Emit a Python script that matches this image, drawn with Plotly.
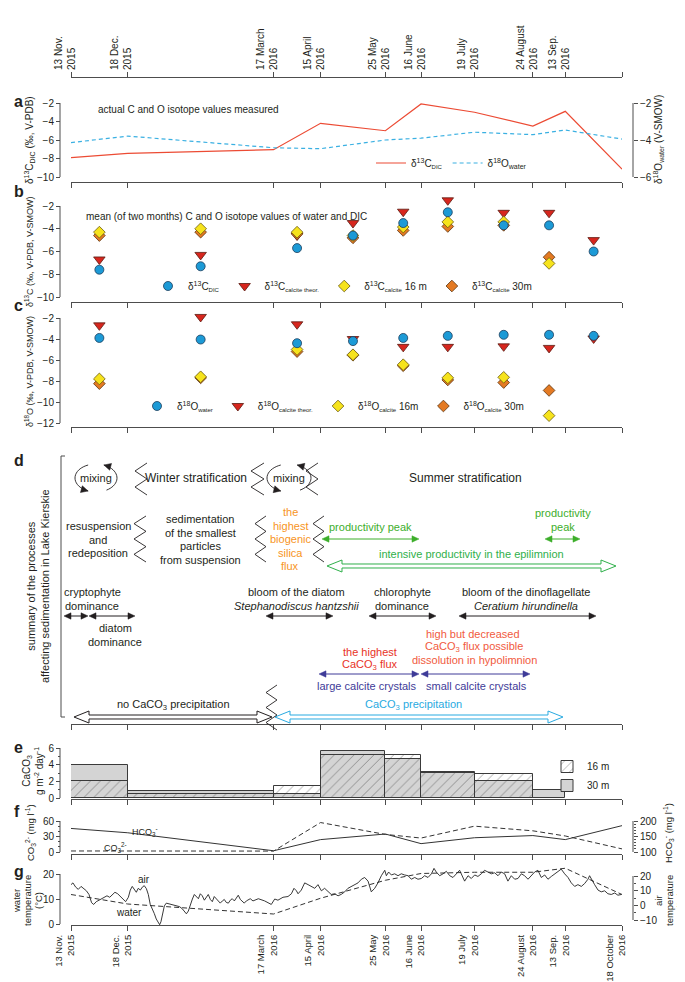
import math
import pandas as pd
import plotly.graph_objects as go

W, H = 685, 982

# ---------------- data ----------------
sampling_dates = ["2015-11-13", "2015-12-18", "2016-03-17", "2016-04-15", "2016-05-25",
                  "2016-06-16", "2016-07-19", "2016-08-24", "2016-09-13", "2016-10-18"]
tick_text = ["13 Nov.<br>2015", "18 Dec.<br>2015", "17 March<br>2016", "15 April<br>2016",
             "25 May<br>2016", "16 June<br>2016", "19 July<br>2016", "24 August<br>2016",
             "13 Sep.<br>2016", "18 October<br>2016"]
top_tick_text = tick_text[:-1] + [""]

# panel a (measured)
d13C_DIC = [-7.9, -7.45, -7.05, -4.2, -5.0, -2.1, -3.0, -4.5, -2.9, -9.15]
d18O_water = [-4.14, -3.79, -4.42, -4.47, -4.0, -3.9, -3.58, -3.71, -3.46, -3.95]

# panel b (two-month means)
b_DIC = [-7.6, -7.3, -5.7, -4.6, -3.5, -2.55, -3.7, -3.7, -6.0]
b_theor = [-6.7, -6.3, -4.6, -3.5, -2.5, -1.5, -2.6, -2.6, -5.0]
b_16m = [-4.3, -4.0, -4.3, -4.6, -3.85, -3.4, -3.4, -7.05, None]
b_30m = [-4.6, -4.3, -4.45, -4.8, -4.15, -3.8, -3.7, -6.5, None]

# panel c
c_water = [-3.9, -4.05, -4.4, -4.2, -3.9, -3.7, -3.6, -3.6, -3.7]
c_theor = [-2.7, -1.9, -2.6, -4.0, -4.75, -4.75, -4.7, -4.85, -3.95]
c_16m = [-7.8, -7.6, -5.0, -5.5, -6.45, -7.7, -7.65, -11.3, None]
c_30m = [-8.25, -7.7, -5.2, -5.55, -6.55, -7.9, -8.15, -8.9, None]

# panel e (CaCO3 flux, g m-2 day-1, per sampling interval)
flux_16m = [2.1, 0.5, 1.4, 5.2, 5.2, 3.0, 2.9, None, None]
flux_30m = [4.0, 0.8, 0.5, 5.7, 4.7, 3.1, 2.0, 1.0, None]

# panel f
co3 = [2.0, 2.0, 1.8, 57, 34, 27, 50, 41, 31, 6]
hco3 = [176, 162, 104, 140, 158, 127, 146, 153, 140, 185]

# panel g
water_temp = [11.8, 8.0, 4.0, 10.3, 17.5, 20.2, 20.7, 20.7, 22.3, 11.8]
air_day = [0, 1.2, 2.9, 4.5, 6.2, 7.8, 9.5, 11.1, 12.7, 14.0, 15.6, 17.3, 18.9, 20.6, 22.2, 23.9,
           25.5, 27.1, 28.8, 30.4, 32.1, 33.7, 35.4, 36.6, 37.8, 39.1, 40.3, 41.5, 42.8, 44.0,
           45.2, 46.5, 47.7, 48.9, 50.2, 51.4, 52.6, 53.9, 54.7, 55.5, 56.4, 57.6, 58.8, 60.5,
           62.1, 63.8, 65.4, 67.0, 68.7, 69.9, 71.2, 72.4, 73.6, 74.9, 76.1, 77.3, 78.6, 79.8,
           81.0, 82.3, 83.5, 84.7, 86.0, 87.2, 88.4, 89.7, 90.9, 92.1, 93.4, 94.6, 95.8, 97.1,
           98.3, 99.5, 100.8, 102.0, 103.2, 104.5, 105.7, 106.9, 108.2, 109.4, 110.6, 112.3,
           113.9, 115.6, 119.5, 123.6, 125.7, 127.7, 130.8, 133.9, 136.0, 137.6, 139.1, 140.1,
           142.1, 144.2, 146.3, 148.3, 150.4, 152.4, 154.5, 156.5, 158.6, 160.6, 162.7, 164.8,
           166.8, 168.9, 170.9, 173.0, 175.0, 177.1, 179.2, 181.2, 183.3, 185.3, 187.4, 189.4,
           191.5, 193.6, 194.6, 196.0, 197.7, 199.7, 201.8, 203.8, 205.9, 208.0, 210.0, 212.1,
           214.1, 216.2, 218.2, 220.3, 222.4, 224.0, 225.4, 227.5, 229.6, 231.6, 233.7, 235.7,
           239.8, 241.5, 242.9, 245.0, 247.0, 249.1, 251.1, 253.2, 255.2, 257.3, 259.4, 261.4,
           263.5, 265.5, 267.6, 269.6, 271.7, 273.8, 275.8, 277.9, 279.9, 282.0, 284.0, 286.1,
           288.1, 290.2, 292.3, 294.3, 296.4, 298.4, 300.5, 302.5, 304.6, 306.7, 308.7, 310.8,
           312.8, 314.9, 316.9, 319.0, 320.0, 321.7, 323.1, 325.2, 327.2, 329.3, 331.3, 333.4,
           335.5, 337.5, 339.6]
air_temp = [14.1, 15.3, 12.4, 10.9, 12.9, 11.6, 9.9, 7.4, 1.8, 0.6, 2.5, 3.5, 4.5, 6.0, 6.5, 5.5,
            7.4, 8.9, 7.9, 6.0, 4.0, 2.5, 5.5, 10.4, 12.9, 10.9, 8.9, 11.6, 10.4, 12.4,
            13.4, 11.4, 7.4, 0.6, -2.4, -5.6, -9.3, -12.2, -13.2, -11.2, -6.3, -0.4, 1.5, 1.1,
            0.6, 0.1, -0.4, -0.9, -2.4, -4.4, -5.8, -3.9, 0.6, 4.3, 7.4, 6.0, 4.5, 7.9,
            6.5, 3.5, 5.5, 7.4, 4.0, 2.5, 6.0, 4.5, 2.5, 1.5, 3.0, 4.0, 2.0, 1.5,
            3.5, 4.5, 3.0, 5.5, 6.9, 4.0, 2.5, 1.5, 3.0, 4.0, 4.5, 3.0,
            3.5, 4.5, 3.0, 0.6, 4.3, 3.5, 5.5, 6.0, 7.9, 11.6, 9.9, 7.9,
            10.4, 15.3, 14.1, 12.9, 11.6, 14.1, 9.9, 11.6, 9.2, 7.4, 7.9, 6.5,
            7.5, 9.2, 11.6, 12.9, 14.1, 15.3, 17.8, 19.0, 16.5, 9.2, 11.6, 15.3,
            20.2, 23.9, 20.2, 22.7, 20.7, 21.5, 20.2, 21.5, 20.7, 20.2, 17.8, 19.0,
            17.8, 18.3, 20.2, 19.0, 21.5, 25.2, 22.7, 20.2, 21.5, 23.2, 20.2, 19.0,
            23.9, 20.2, 16.5, 20.2, 18.3, 20.7, 19.7, 21.5, 23.9, 22.7, 21.5, 22.2,
            20.2, 22.7, 21.5, 16.5, 20.2, 17.8, 18.3, 21.5, 20.2, 17.8, 20.2, 22.7,
            23.9, 19.0, 20.7, 17.8, 19.7, 21.5, 23.2, 24.7, 21.5, 19.0, 15.3, 12.9,
            14.1, 12.9, 14.8, 17.8, 20.2, 16.5, 14.1, 10.4, 9.2, 9.9, 7.9, 7.4,
            8.4, 6.9, 7.4]

# derived positions via pandas (interval starts, lengths, midpoints)
sd = pd.to_datetime(sampling_dates)
period_start = sd[:-1]
period_len_ms = [(b - a).total_seconds() * 1000 for a, b in zip(sd[:-1], sd[1:])]
period_mid = [a + (b - a) / 2 for a, b in zip(sd[:-1], sd[1:])]
air_dates = pd.Timestamp(sampling_dates[0]) + pd.to_timedelta(air_day, unit="D")

# ---------------- layout helpers ----------------
def xp(p):
    return p / W


def yp(p):
    return 1 - p / H


X0, X1 = 63, 614
XDOM = [xp(X0), xp(X1)]
XR = [sampling_dates[0], sampling_dates[-1]]
LEFT_AX, RIGHT_AX = 52, 625
FONT = "Liberation Sans, Arial, sans-serif"
DF = 11  # panel d font size
INK = "#231f20"
AXC = "#4d4d4d"


def yrange(v_top, p_top, v_bot, p_bot, dom_top, dom_bot):
    k = (v_top - v_bot) / (p_bot - p_top)
    return [v_bot - (dom_bot - p_bot) * k, v_top + (p_top - dom_top) * k]


def xaxis_def(pos_px, labels=False, side="bottom", text=None, fsize=10):
    d = dict(domain=XDOM, range=XR, type="date", anchor="free", position=yp(pos_px),
             side=side, showline=True, linecolor=AXC, linewidth=1, ticks="outside",
             ticklen=5, tickcolor=AXC, tickvals=sampling_dates, showgrid=False,
             zeroline=False, showticklabels=labels, fixedrange=True, automargin=False)
    if labels:
        d.update(ticktext=text, tickangle=-90, ticklabelshift=-6,
                 tickfont=dict(size=fsize, color=INK, family=FONT))
    return d


def yaxis_def(dom_top, dom_bot, rng, tickvals, side="left", overlaying=None, minor=None):
    d = dict(domain=[yp(dom_bot), yp(dom_top)], range=rng, anchor="free",
             position=xp(LEFT_AX if side == "left" else RIGHT_AX), side=side,
             showline=False, ticks="outside", ticklen=4, tickcolor=AXC, tickvals=tickvals,
             showgrid=False, zeroline=False, tickfont=dict(size=10, color=INK, family=FONT),
             fixedrange=True, automargin=False)
    if overlaying:
        d["overlaying"] = overlaying
    if minor:
        d["minor"] = dict(tickvals=minor, ticks="outside", ticklen=2, tickcolor=AXC)
    return d


SH = []
AN = []


def axis_line(yref, v0, v1, xpx):
    SH.append(dict(type="line", xref="paper", yref=yref, x0=xp(xpx), x1=xp(xpx), y0=v0, y1=v1,
                   line=dict(color=AXC, width=1)))


def pth(pts, close=False):
    s = "M " + " L ".join(f"{xp(x):.5f},{yp(y):.5f}" for x, y in pts)
    return s + (" Z" if close else "")


def add_line(x0, y0, x1, y1, color=INK, w=1):
    SH.append(dict(type="line", xref="paper", yref="paper", x0=xp(x0), y0=yp(y0), x1=xp(x1),
                   y1=yp(y1), line=dict(color=color, width=w)))


def add_poly(pts, fill, color, w=1, close=True):
    SH.append(dict(type="path", xref="paper", yref="paper", path=pth(pts, close),
                   fillcolor=fill, line=dict(color=color, width=w)))


def head(tx, ty, dx, dy, color, L=7, hw=3.2):
    n = math.hypot(dx, dy)
    ux, uy = dx / n, dy / n
    bx, by = tx - L * ux, ty - L * uy
    add_poly([(tx, ty), (bx - hw * uy, by + hw * ux), (bx + hw * uy, by - hw * ux)], color, color, 0.5)


def darrow(x0, x1, y, color, w=1):
    add_line(x0 + 5, y, x1 - 5, y, color, w)
    head(x1, y, 1, 0, color)
    head(x0, y, -1, 0, color)


def hollow(x0, x1, y, color, L=15, hw=6, sw=2):
    pts = [(x0, y), (x0 + L, y - hw), (x0 + L, y - sw), (x1 - L, y - sw), (x1 - L, y - hw), (x1, y),
           (x1 - L, y + hw), (x1 - L, y + sw), (x0 + L, y + sw), (x0 + L, y + hw)]
    add_poly(pts, "white", color, 1)


def zigzag(xl, xr, yt, yb, n, color=INK):
    pts = [(xr if i % 2 == 0 else xl, yt + (yb - yt) * i / n) for i in range(n + 1)]
    add_poly(pts, "rgba(0,0,0,0)", color, 0.9, close=False)


def txt(x, y, s, size=DF, color=INK, font=FONT, xanchor="center", yanchor="middle", angle=0):
    AN.append(dict(x=xp(x), y=yp(y), xref="paper", yref="paper", text=s, showarrow=False,
                   font=dict(size=size, color=color, family=font), xanchor=xanchor,
                   yanchor=yanchor, textangle=angle, align="center"))


def mixing(cx, cy, rx, ry):
    for a0, a1 in ((-60, 68), (112, 248)):
        pts = []
        for k in range(21):
            t = math.radians(a0 + (a1 - a0) * k / 20)
            pts.append((cx + rx * math.cos(t), cy - ry * math.sin(t)))
        add_poly(pts, "rgba(0,0,0,0)", INK, 0.9, close=False)
        t = math.radians(a1)
        head(cx + rx * math.cos(t), cy - ry * math.sin(t), -rx * math.sin(t), -ry * math.cos(t), INK, L=7, hw=3.5)
    txt(cx, cy, "mixing")


# ---------------- panel geometry (pixels) ----------------
TOP_AX = 69
A_TOP, A_BOT = 86, 174
ra_left = yrange(-2, 95, -10, 169, A_TOP, A_BOT)
ra_right = yrange(-2, 95, -6, 169, A_TOP, A_BOT)
B_TOP, B_BOT = 186, 294
rb = yrange(-2, 198, -10, 289, B_TOP, B_BOT)
C_TOP, C_BOT = 300, 419
rc = yrange(-2, 310, -12, 415, C_TOP, C_BOT)
D_TOP, D_BOT = 440, 716
E_TOP, E_BOT = 733, 791
re = yrange(6, 740, 0, 790, E_TOP, E_BOT)
F_TOP, F_BOT = 806, 846
rf_left = yrange(60, 813, 0, 844, F_TOP, F_BOT)
rf_right = yrange(200, 813, 100, 844, F_TOP, F_BOT)
G_TOP, G_BOT = 857, 917
rg_left = yrange(20, 866, 0, 916, G_TOP, G_BOT)
rg_right = yrange(20, 868, -10, 912, G_TOP, G_BOT)

fig = go.Figure()

# dummy trace for the top date axis
fig.add_trace(go.Scatter(x=[sampling_dates[0]], y=[0], xaxis="x", yaxis="y", mode="markers",
                         marker=dict(opacity=0), showlegend=False, hoverinfo="skip"))

# ---- panel a ----
fig.add_trace(go.Scatter(x=sampling_dates, y=d13C_DIC, xaxis="x2", yaxis="y2", mode="lines",
                         line=dict(color="#ec4b34", width=1.2),
                         name='δ<sup>13</sup>C<sub><span style="font-size:6px">DIC</span></sub>',
                         legend="legend"))
fig.add_trace(go.Scatter(x=sampling_dates, y=d18O_water, xaxis="x2", yaxis="y3", mode="lines",
                         line=dict(color="#3ab0e2", width=1.2, dash="4px,3px"),
                         name="δ<sup>18</sup>O<sub>water</sub>", legend="legend"))

# ---- panels b and c ----
STY = {
    "red": dict(symbol="triangle-down", size=10, color="#d7261e", line=dict(color="#5a1a10", width=0.8)),
    "orange": dict(symbol="diamond", size=9, color="#e47a23", line=dict(color="#5c3510", width=0.8)),
    "yellow": dict(symbol="diamond", size=9, color="#f6e31c", line=dict(color="#6b5a10", width=0.8)),
    "blue": dict(symbol="circle", size=9, color="#1c9ad6", line=dict(color="#1d3d5c", width=0.8)),
}


def sub(s):
    return f'<sub><span style="font-size:6px">{s}</span></sub>'


b_series = [("red", b_theor, "δ<sup>13</sup>C" + sub("calcite theor."), 2),
            ("orange", b_30m, "δ<sup>13</sup>C" + sub("calcite") + " 30m", 4),
            ("yellow", b_16m, "δ<sup>13</sup>C" + sub("calcite") + " 16 m", 3),
            ("blue", b_DIC, "δ<sup>13</sup>C" + sub("DIC"), 1)]
for key, vals, nm, rank in b_series:
    fig.add_trace(go.Scatter(x=period_mid, y=vals, xaxis="x4", yaxis="y4", mode="markers",
                             marker=STY[key], name=nm, legend="legend2", legendrank=rank,
                             cliponaxis=False))
c_series = [("red", c_theor, "δ<sup>18</sup>O" + sub("calcite theor."), 2),
            ("orange", c_30m, "δ<sup>18</sup>O" + sub("calcite") + " 30m", 4),
            ("yellow", c_16m, "δ<sup>18</sup>O" + sub("calcite") + " 16m", 3),
            ("blue", c_water, "δ<sup>18</sup>O" + sub("water"), 1)]
for key, vals, nm, rank in c_series:
    fig.add_trace(go.Scatter(x=period_mid, y=vals, xaxis="x5", yaxis="y5", mode="markers",
                             marker=STY[key], name=nm, legend="legend3", legendrank=rank,
                             cliponaxis=False))

# ---- panel d (axis only) ----
fig.add_trace(go.Scatter(x=[sampling_dates[0]], y=[0], xaxis="x6", yaxis="y6", mode="markers",
                         marker=dict(opacity=0), showlegend=False, hoverinfo="skip"))

# ---- panel e ----
fig.add_trace(go.Bar(x=period_start, y=flux_30m, offset=0, width=period_len_ms, xaxis="x7", yaxis="y7",
                     marker=dict(color="#d4d4d4", line=dict(color="#3a3a3a", width=1)),
                     name="30 m", legend="legend4", legendrank=2))
fig.add_trace(go.Bar(x=period_start, y=flux_16m, offset=0, width=period_len_ms, xaxis="x7", yaxis="y7",
                     marker=dict(color="rgba(0,0,0,0)", line=dict(color="#3a3a3a", width=1),
                                 pattern=dict(shape="/", fgcolor="#333333", size=7, solidity=0.12)),
                     name="16 m", legend="legend4", legendrank=1))

# ---- panel f ----
fig.add_trace(go.Scatter(x=sampling_dates, y=co3, xaxis="x8", yaxis="y8", mode="lines",
                         line=dict(color="#333333", width=1, dash="5px,3px"), showlegend=False))
fig.add_trace(go.Scatter(x=sampling_dates, y=hco3, xaxis="x8", yaxis="y9", mode="lines",
                         line=dict(color="#333333", width=1), showlegend=False))

# ---- panel g ----
fig.add_trace(go.Scatter(x=sampling_dates, y=water_temp, xaxis="x10", yaxis="y10", mode="lines",
                         line=dict(color="#333333", width=1, dash="5px,3px"), showlegend=False))
fig.add_trace(go.Scatter(x=air_dates, y=air_temp, xaxis="x10", yaxis="y11", mode="lines",
                         line=dict(color="#222222", width=0.9), showlegend=False))

# ---------------- axes ----------------
lay = dict(
    xaxis=xaxis_def(TOP_AX, labels=True, side="top", text=top_tick_text),
    yaxis=dict(domain=[yp(TOP_AX), yp(TOP_AX - 1)], visible=False, anchor="x", fixedrange=True,
               automargin=False),
    xaxis2=xaxis_def(A_BOT),
    yaxis2=yaxis_def(A_TOP, A_BOT, ra_left, [-10, -8, -6, -4, -2]),
    yaxis3=yaxis_def(A_TOP, A_BOT, ra_right, [-6, -4, -2], side="right", overlaying="y2"),
    xaxis4=xaxis_def(B_BOT),
    yaxis4=yaxis_def(B_TOP, B_BOT, rb, [-10, -8, -6, -4, -2]),
    xaxis5=xaxis_def(C_BOT),
    yaxis5=yaxis_def(C_TOP, C_BOT, rc, [-12, -10, -8, -6, -4, -2]),
    xaxis6=xaxis_def(D_BOT),
    yaxis6=dict(domain=[yp(D_BOT), yp(D_TOP)], range=[0, 1], visible=False, anchor="free",
                position=xp(LEFT_AX), fixedrange=True, automargin=False),
    xaxis7=xaxis_def(E_BOT),
    yaxis7=yaxis_def(E_TOP, E_BOT, re, [0, 2, 4, 6], minor=[1, 3, 5]),
    xaxis8=xaxis_def(F_BOT),
    yaxis8=yaxis_def(F_TOP, F_BOT, rf_left, [0, 30, 60], minor=[10, 20, 40, 50]),
    yaxis9=yaxis_def(F_TOP, F_BOT, rf_right, [100, 150, 200], side="right", overlaying="y8",
                     minor=[110, 120, 130, 140, 160, 170, 180, 190]),
    xaxis10=xaxis_def(G_BOT, labels=True, text=tick_text, fsize=9.5),
    yaxis10=yaxis_def(G_TOP, G_BOT, rg_left, [0, 10, 20]),
    yaxis11=yaxis_def(G_TOP, G_BOT, rg_right, [-10, 0, 10, 20], side="right", overlaying="y10",
                      minor=[-5, 5, 15]),
)

# R-style y-axis lines (only between extreme ticks)
axis_line("y2", -10, -2, LEFT_AX)
axis_line("y3", -6, -2, RIGHT_AX)
axis_line("y4", -10, -2, LEFT_AX)
axis_line("y5", -12, -2, LEFT_AX)
axis_line("y7", 0, 6, LEFT_AX)
axis_line("y8", 0, 60, LEFT_AX)
axis_line("y9", 100, 200, RIGHT_AX)
axis_line("y10", 0, 20, LEFT_AX)
axis_line("y11", -10, 20, RIGHT_AX)

# ---------------- panel letters & axis titles ----------------
for letter, ypos in (("a", 94), ("b", 184), ("c", 297), ("d", 453), ("e", 739), ("f", 803), ("g", 863)):
    AN.append(dict(x=xp(4), y=yp(ypos), xref="paper", yref="paper", text=f"<b>{letter}</b>",
                   showarrow=False, font=dict(size=16, color=INK, family=FONT), xanchor="left",
                   yanchor="middle"))

txt(21, 132, "δ<sup>13</sup>C<sub>DIC</sub> (‰, V-PDB)", size=10, angle=-90)
txt(650, 132, "δ<sup>18</sup>O<sub>water</sub> (V-SMOW)", size=10, angle=-90)
txt(21, 244, "δ<sup>13</sup>C (‰, V-PDB, V-SMOW)", size=9, angle=-90)
txt(21, 364, "δ<sup>18</sup>O (‰, V-PDB, V-SMOW)", size=9, angle=-90)
txt(30, 578, "summary of the processes<br>affecting sedimentation in Lake Kierskie", size=11,
    angle=-90)
txt(25, 763, "CaCO<sub>3</sub><br>g m<sup>-2</sup> day<sup>-1</sup>", size=10, angle=-90)
txt(22, 825, "CO<sub>3</sub><sup>2-</sup> (mg l<sup>-1</sup>)", size=9.5, angle=-90)
txt(660, 825, "HCO<sub>3</sub><sup>-</sup> (mg l<sup>-1</sup>)", size=9.5, angle=-90)
for i, s in enumerate(["water", "temperature", "(°C)"]):
    txt(8 + 11 * i, 893, s, size=9.5, angle=-90)
for i, s in enumerate(["air", "temperature", "(°C)"]):
    txt(650 + 11 * i, 893, s, size=9.5, angle=-90)

# in-panel texts
txt(88, 101, "actual C and O isotope values measured", size=10, xanchor="left")
txt(76, 208, "mean (of two months) C and O isotope values of water and DIC", size=10,
    xanchor="left")
txt(137, 823, "HCO<sub>3</sub><sup>-</sup>", size=9)
txt(107, 839, "CO<sub>3</sub><sup>2-</sup>", size=9)
txt(136, 871, "air", size=10)
txt(121, 904, "water", size=10)

# ---------------- panel d drawing ----------------
add_line(LEFT_AX + 1, 448, LEFT_AX + 1, 709, AXC)
add_line(LEFT_AX + 1, 448, LEFT_AX + 5, 448, AXC)
add_line(LEFT_AX + 1, 709, LEFT_AX + 5, 709, AXC)

ORANGE, GREEN, GREEN2 = "#f7941d", "#3dae2b", "#2fb04a"
RED1, RED2, INDIGO, BLUE = "#e8321e", "#f15a40", "#3e3b98", "#29aae1"

# row 1: mixing / stratification
mixing(88, 470, 21, 14)
zigzag(127, 139, 455, 487, 4)
txt(188, 470, "Winter stratification", size=12)
zigzag(243, 256, 455, 487, 4)
mixing(281, 470, 22, 14)
zigzag(298, 310, 455, 487, 4)
txt(457, 470, "Summer stratification", size=12)

# row 2
for i, s in enumerate(["resuspension", "and", "redeposition"]):
    txt(90, 518 + 13.5 * i, s)
zigzag(126, 138, 508, 554, 6)
for i, s in enumerate(["sedimentation", "of the smallest", "particles", "from suspension"]):
    txt(192, 511 + 13.5 * i, s)
zigzag(247, 258, 508, 554, 6)
for i, s in enumerate(["the", "highest", "biogenic", "silica", "flux"]):
    txt(282, 504 + 13.5 * i, s, color=ORANGE)
zigzag(305, 316, 508, 554, 6)
txt(362, 519, "productivity peak", color=GREEN)
darrow(314, 411, 531, GREEN)
txt(555, 505, "productivity", color=GREEN)
txt(555, 519, "peak", color=GREEN)
darrow(537, 572, 531, GREEN)
txt(463, 546, "intensive productivity in the epilimnion", color=GREEN2)
hollow(319, 608, 558, GREEN2)

# row 3: phytoplankton
txt(84, 584, "cryptophyte")
txt(84, 598, "dominance")
darrow(56, 80, 608, INK)
darrow(81, 127, 608, INK)
txt(107, 620, "diatom")
txt(107, 634, "dominance")
txt(288, 584, "bloom of the diatom")
txt(288, 598, "<i>Stephanodiscus hantzshii</i>")
darrow(258, 325, 608, INK)
txt(394, 584, "chlorophyte")
txt(394, 598, "dominance")
darrow(361, 428, 608, INK)
txt(518, 584, "bloom of the dinoflagellate")
txt(518, 598, "<i>Ceratium hirundinella</i>")
darrow(451, 588, 608, INK)

# row 4: CaCO3
txt(465, 626, "high but decreased", color=RED2)
txt(466, 639, "CaCO<sub>3</sub> flux possible", color=RED2)
txt(466, 652, "dissolution in hypolimnion", color=RED2)
txt(362, 644, "the highest", color=RED1)
txt(362, 657, "CaCO<sub>3</sub> flux", color=RED1)
darrow(311, 411, 666, INDIGO)
darrow(413, 522, 666, INDIGO)
txt(359, 678, "large calcite crystals", color=INDIGO)
txt(468, 678, "small calcite crystals", color=INDIGO)

txt(165, 697, "no CaCO<sub>3</sub> precipitation")
hollow(66, 264, 709, INK)
txt(405, 697, "CaCO<sub>3</sub> precipitation", color=BLUE)
hollow(267, 555, 709, BLUE)
zigzag(258, 269, 677, 722, 6)

# ---------------- legends ----------------
leg_common = dict(orientation="h", bgcolor="rgba(0,0,0,0)", font=dict(size=10, color=INK, family=FONT),
                  itemwidth=30, xanchor="left", yanchor="middle", tracegroupgap=0)
lay.update(
    legend=dict(x=xp(363), y=yp(155), **leg_common),
    legend2=dict(x=xp(140), y=yp(278), **leg_common),
    legend3=dict(x=xp(129), y=yp(398), **leg_common),
    legend4=dict(x=xp(539), y=yp(768), bgcolor="rgba(0,0,0,0)", orientation="v",
                 font=dict(size=10, color=INK, family=FONT), xanchor="left", yanchor="middle",
                 itemwidth=30),
)

fig.update_layout(
    width=W, height=H, margin=dict(l=0, r=0, t=0, b=0, pad=0, autoexpand=False),
    paper_bgcolor="white", plot_bgcolor="white", barmode="overlay", bargap=0,
    showlegend=True, hovermode=False, font=dict(family=FONT, size=10, color=INK),
    shapes=SH, annotations=AN, **lay,
)

fig.write_html("out.html")
